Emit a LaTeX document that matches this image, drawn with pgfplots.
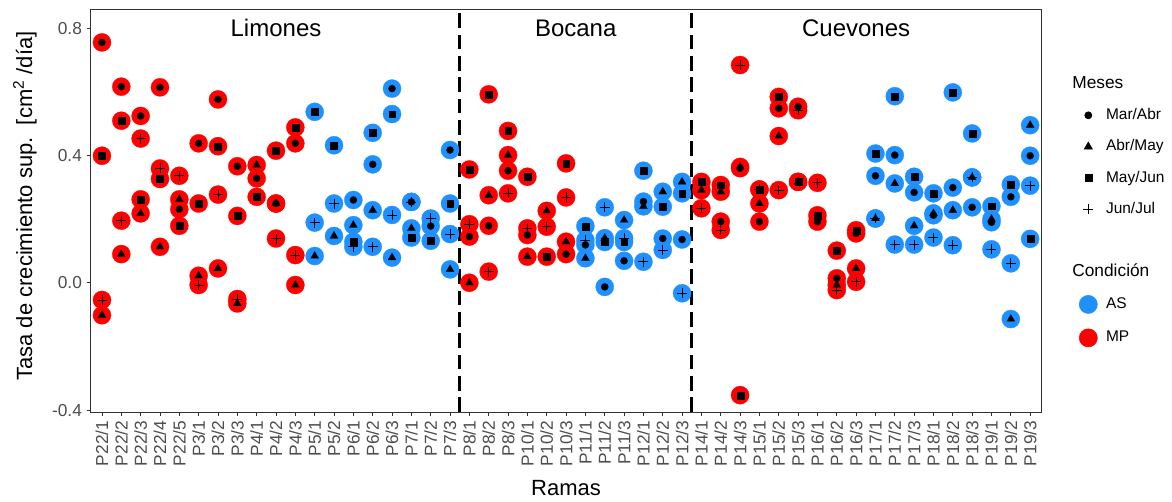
\documentclass[border=0pt]{standalone}
\usepackage{pgfplots}
\pgfplotsset{compat=1.18}
\usepackage{pgfplotstable}
\usepackage{fontspec}
\setmainfont{Liberation Sans}
\setsansfont{Liberation Sans}
\definecolor{asblue}{HTML}{1E90FF}
\definecolor{mpred}{HTML}{FF0000}
\definecolor{gray30}{HTML}{4D4D4D}
\definecolor{gray20}{HTML}{333333}

% Condicion MP
\pgfplotstableread{
x mar abr may jun
0 0.755 -0.102 0.399 -0.054
1 0.616 0.090 0.509 0.195
2 0.524 0.218 0.262 0.453
3 0.614 0.113 0.326 0.359
4 0.231 0.262 0.179 0.336
5 0.438 0.022 0.249 -0.007
6 0.576 0.045 0.429 0.277
7 0.366 -0.065 0.210 -0.051
8 0.328 0.370 0.270 nan
9 0.249 0.249 0.415 0.139
10 0.438 -0.007 0.488 0.087
19 0.145 0.000 0.356 0.184
20 0.179 0.275 0.592 0.035
21 0.352 0.401 0.477 0.281
22 0.150 0.082 0.333 0.171
23 nan 0.226 0.082 0.176
24 0.090 0.129 0.375 0.268
31 nan 0.291 0.317 0.234
32 0.192 0.286 0.307 0.166
33 0.360 0.364 -0.353 0.684
34 0.192 0.249 0.293 0.293
35 0.548 0.461 0.584 0.291
36 0.553 0.317 0.317 0.542
37 0.192 nan 0.212 0.314
38 0.014 -0.007 0.101 -0.023
39 0.155 0.045 0.165 0.003
}\MP

% Condicion AS
\pgfplotstableread{
x mar abr may jun
11 nan 0.084 0.537 0.189
12 nan 0.147 0.432 0.249
13 0.260 0.181 0.129 0.113
14 0.372 0.228 0.471 0.113
15 0.610 0.079 0.530 0.213
16 0.254 0.171 0.142 0.254
17 0.178 nan 0.132 0.202
18 0.417 0.042 0.249 0.153
25 0.119 0.077 0.178 0.134
26 -0.013 0.140 0.128 0.237
27 0.069 0.197 0.128 0.140
28 0.255 0.240 0.352 0.066
29 0.139 0.286 0.239 0.103
30 0.136 0.317 0.281 -0.033
40 0.336 0.202 0.406 0.202
41 0.401 0.312 0.586 0.120
42 0.284 0.179 0.333 0.120
43 0.212 0.218 0.281 0.142
44 0.299 0.228 0.598 0.118
45 0.237 0.331 0.469 0.331
46 0.190 0.200 0.241 0.105
47 0.270 -0.114 0.309 0.061
48 0.399 0.495 0.138 0.305
}\AS

\pgfplotsset{
  disk/.style={only marks, mark=*, mark size=6.8pt, mark options={draw=#1, fill=#1, line width=0.2pt}, forget plot},
  scirc/.style={only marks, mark=*, mark size=2.7pt, mark options={draw=black, fill=black, line width=0.1pt}, forget plot},
  stri/.style={only marks, mark=triangle*, mark size=3.5pt, mark options={draw=black, fill=black, line width=0.1pt}, forget plot},
  ssq/.style={only marks, mark=square*, mark size=2.6pt, mark options={draw=black, fill=black, line width=0.1pt}, forget plot},
  splus/.style={only marks, mark=+, mark size=3.75pt, mark options={draw=black, line width=0.6pt}, forget plot},
}

\begin{document}
\begin{tikzpicture}
\path[use as bounding box] (0,0) rectangle (879pt,375.75pt);
\begin{axis}[
  at={(68pt,66.75pt)}, anchor=south west,
  scale only axis, width=713.1pt, height=302pt,
  xmin=-0.585, xmax=48.585, ymin=-0.406, ymax=0.859,
  xtick={0,...,48},
  xticklabels={P22/1,P22/2,P22/3,P22/4,P22/5,P3/1,P3/2,P3/3,P4/1,P4/2,P4/3,P5/1,P5/2,P6/1,P6/2,P6/3,P7/1,P7/2,P7/3,P8/1,P8/2,P8/3,P10/1,P10/2,P10/3,P11/1,P11/2,P11/3,P12/1,P12/2,P12/3,P14/1,P14/2,P14/3,P15/1,P15/2,P15/3,P16/1,P16/2,P16/3,P17/1,P17/2,P17/3,P18/1,P18/2,P18/3,P19/1,P19/2,P19/3},
  ytick={-0.4,0,0.4,0.8},
  yticklabels={-0.4,0.0,0.4,0.8},
  xtick pos=bottom, ytick pos=left,
  tick align=outside, major tick length=3pt,
  tick style={gray20, line width=0.6pt},
  axis line style={gray20, line width=0.6pt},
  ticklabel style={font=\fontsize{13}{15}\selectfont, text=gray30},
  xticklabel style={rotate=90, anchor=east},
  xlabel={Ramas},
  ylabel={Tasa de crecimiento sup.\ \ [cm\textsuperscript{2} /día]},
  label style={font=\fontsize{16.5}{19}\selectfont, text=black},
  xlabel style={at={(axis description cs:0.5,-0.1887)}, anchor=center},
  ylabel style={at={(axis description cs:-0.0691,0.5115)}, anchor=center},
  legend style={at={(axis description cs:1.0373,0.8344)}, anchor=north west,
    draw=none, fill=none, inner sep=0pt, outer sep=0pt,
    row sep=11.5pt, column sep=6.5pt,
    nodes={inner sep=0pt, text height=9pt, text depth=3pt},
    font=\fontsize{11.6}{13}\selectfont},
  legend cell align=left,
]
\addplot[black, line width=2.2pt, dash pattern=on 11pt off 5pt, forget plot] coordinates {(18.5,-0.406) (18.5,0.859)};
\addplot[black, line width=2.2pt, dash pattern=on 11pt off 5pt, forget plot] coordinates {(30.5,-0.406) (30.5,0.859)};

\addplot[disk=mpred] table[x=x, y=mar] {\MP};
\addplot[disk=mpred] table[x=x, y=abr] {\MP};
\addplot[disk=mpred] table[x=x, y=may] {\MP};
\addplot[disk=mpred] table[x=x, y=jun] {\MP};
\addplot[disk=asblue] table[x=x, y=mar] {\AS};
\addplot[disk=asblue] table[x=x, y=abr] {\AS};
\addplot[disk=asblue] table[x=x, y=may] {\AS};
\addplot[disk=asblue] table[x=x, y=jun] {\AS};

\addplot[scirc] table[x=x, y=mar] {\MP};
\addplot[scirc] table[x=x, y=mar] {\AS};
\addplot[stri] table[x=x, y=abr] {\MP};
\addplot[stri] table[x=x, y=abr] {\AS};
\addplot[ssq] table[x=x, y=may] {\MP};
\addplot[ssq] table[x=x, y=may] {\AS};
\addplot[splus] table[x=x, y=jun] {\MP};
\addplot[splus] table[x=x, y=jun] {\AS};

\node[font=\fontsize{18}{20}\selectfont] at (axis cs:9,0.80) {Limones};
\node[font=\fontsize{18}{20}\selectfont] at (axis cs:24.5,0.80) {Bocana};
\node[font=\fontsize{18}{20}\selectfont] at (axis cs:39,0.80) {Cuevones};

\addlegendimage{empty legend}
\addlegendentry{\hspace*{-25.3pt}{\fontsize{13}{15}\selectfont Meses}}
\addlegendimage{only marks, mark=*, mark size=2.7pt, black}
\addlegendentry{Mar/Abr}
\addlegendimage{only marks, mark=triangle*, mark size=3.5pt, black}
\addlegendentry{Abr/May}
\addlegendimage{only marks, mark=square*, mark size=2.6pt, black}
\addlegendentry{May/Jun}
\addlegendimage{only marks, mark=+, mark size=3.75pt, black, mark options={line width=0.6pt}}
\addlegendentry{Jun/Jul}
\addlegendimage{empty legend}
\addlegendentry{}
\addlegendimage{empty legend}
\addlegendentry{\hspace*{-25.3pt}{\fontsize{13}{15}\selectfont Condición}}
\addlegendimage{only marks, mark=*, mark size=6.8pt, asblue}
\addlegendentry{AS}
\addlegendimage{only marks, mark=*, mark size=6.8pt, mpred}
\addlegendentry{MP}
\end{axis}
\end{tikzpicture}
\end{document}
